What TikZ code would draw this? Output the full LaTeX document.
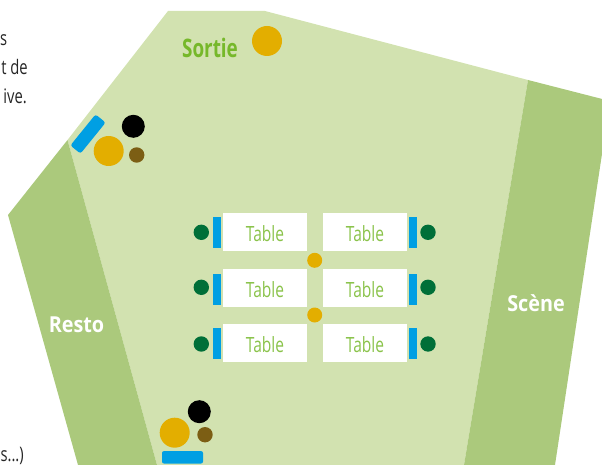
\documentclass[tikz,border=0pt]{standalone}
\usepackage{fontspec}
\setmainfont{Open Sans}[FakeStretch=0.74]
\newfontfamily\bandfont{Open Sans}[FakeStretch=0.9]
\definecolor{roomc}{HTML}{D2E2B0}
\definecolor{bandc}{HTML}{ABC97C}
\definecolor{bluec}{HTML}{009FE3}
\definecolor{orangec}{HTML}{E3AE00}
\definecolor{brownc}{HTML}{7C5E14}
\definecolor{greenc}{HTML}{006F38}
\definecolor{labelc}{HTML}{76B82A}
\newcommand{\tablelabel}{\raisebox{-1.6pt}[\height][\depth]{Table}}
\tikzset{
  tablebox/.style={fill=white,minimum width=84pt,minimum height=38pt,inner sep=0pt,text=labelc!85!white,font=\fontsize{21}{21}\selectfont},
  bandlabel/.style={text=white,font=\bandfont\fontsize{22}{22}\selectfont\bfseries,inner sep=0pt},
  sidetext/.style={text=black!85,font=\fontsize{20}{20}\selectfont,inner sep=0pt,anchor=base east},
  disc/.style={circle,inner sep=0pt,minimum size=#1},
  seat/.style={fill=bluec,inner sep=0pt,minimum width=8pt,minimum height=31pt},
}
\begin{document}
\begin{tikzpicture}[x=1pt,y=-1pt]
\useasboundingbox (0,0) rectangle (602,465);
\clip (0,0) rectangle (602,465);
\fill[roomc] (168,11) -- (265,11) -- (528,80) -- (464,465) -- (157,465) -- (67.5,140) -- cycle;
\fill[bandc] (528,80) -- (610,101) -- (555,465) -- (464,465) -- cycle;
\fill[bandc] (67.5,140) -- (157,465) -- (78,465) -- (8,215) -- cycle;
\node[sidetext] (t1) at (7.5,46) {s};
\node[sidetext] (t2) at (28,75) {t de};
\node[sidetext] (t3) at (27,104) {ive.};
\node[sidetext] (t4) at (24,461) {s...)};
\node[text=labelc,font=\fontsize{25.5}{25.5}\selectfont\bfseries,inner sep=0pt] (sortie) at (210,48) {Sortie};
\node[bandlabel] (scene) at (536,303) {Scène};
\node[bandlabel] (resto) at (76.5,325) {Resto};
\node[disc=30pt,fill=orangec] (exitdot) at (267,41) {};
% top-left group
\fill[bluec,rounded corners=2.5pt] [rotate around={51:(88,134)}] (68,127.5) rectangle (108,140.5);
\node[disc=23pt,fill=black] (b1) at (133.3,126.3) {};
\node[disc=30pt,fill=orangec] (o1) at (108.7,151) {};
\node[disc=15.4pt,fill=brownc] (m1) at (136.7,155) {};
% bottom group
\node[fill=bluec,rounded corners=2pt,minimum width=41pt,minimum height=12.5pt,inner sep=0pt] (bar2) at (182.5,457.3) {};
\node[disc=23pt,fill=black] (b2) at (199.3,411.7) {};
\node[disc=30pt,fill=orangec] (o2) at (174.7,432.7) {};
\node[disc=15.4pt,fill=brownc] (m2) at (205,434.7) {};
% tables
\node[tablebox] (ta) at (265,232) {\tablelabel};
\node[tablebox] (tb) at (365,232) {\tablelabel};
\node[tablebox] (tc) at (265,288) {\tablelabel};
\node[tablebox] (td) at (365,288) {\tablelabel};
\node[tablebox] (te) at (265,343) {\tablelabel};
\node[tablebox] (tf) at (365,343) {\tablelabel};
\node[seat] (sa) at (217,232.5) {};
\node[seat] (sb) at (413,232.5) {};
\node[seat] (sc) at (217,289.5) {};
\node[seat] (sd) at (413,289.5) {};
\node[seat] (se) at (217,343.5) {};
\node[seat] (sf) at (413,343.5) {};
\node[disc=15.4pt,fill=greenc] (ga) at (201.3,232.3) {};
\node[disc=15.4pt,fill=greenc] (gb) at (428,232.3) {};
\node[disc=15.4pt,fill=greenc] (gc) at (201.3,287.3) {};
\node[disc=15.4pt,fill=greenc] (gd) at (428,287.3) {};
\node[disc=15.4pt,fill=greenc] (ge) at (201.3,344) {};
\node[disc=15.4pt,fill=greenc] (gf) at (428,344) {};
\node[disc=15pt,fill=orangec] (oa) at (314.7,260.3) {};
\node[disc=15pt,fill=orangec] (ob) at (314.7,315) {};
\end{tikzpicture}
\end{document}
